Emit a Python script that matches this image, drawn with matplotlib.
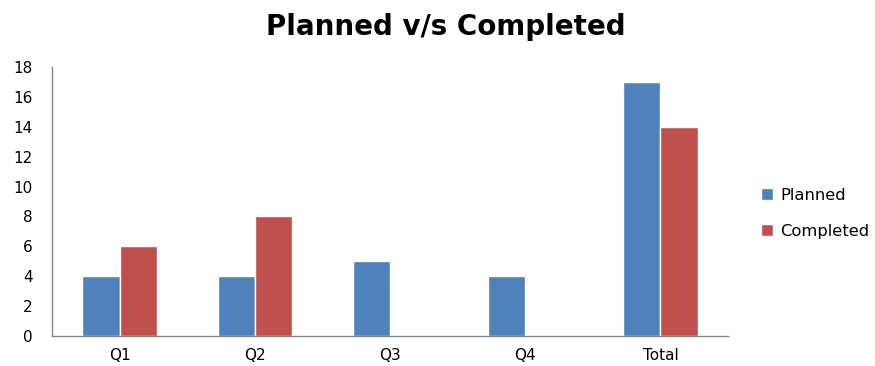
import matplotlib.pyplot as plt
import numpy as np

# chart data
quarters = ["Q1", "Q2", "Q3", "Q4", "Total"]
planned = [4, 4, 5, 4, 17]
completed = [6, 8, 0, 0, 14]

blue = "#4F81BD"
red = "#C0504D"

plt.rcParams['font.family'] = ['DejaVu Sans']

fig = plt.figure(figsize=(8.75, 3.66), dpi=100)
ax = fig.add_axes([0.0594, 0.082, 0.7726, 0.735])

x = np.arange(len(quarters))
w = 0.275
b1 = ax.bar(x - w / 2, planned, w, color=blue, edgecolor="white", linewidth=1, label="Planned")
b2 = ax.bar(x + w / 2, completed, w, color=red, edgecolor="white", linewidth=1, label="Completed")

ax.set_xlim(-0.5, len(quarters) - 0.5)
ax.set_ylim(0, 18)
ax.set_yticks(range(0, 19, 2))
ax.set_xticks(x)
ax.set_xticklabels(quarters)
ax.tick_params(length=0, labelsize=11, colors="black")
ax.tick_params(axis="y", pad=14)
ax.tick_params(axis="x", pad=9)

for s in ["top", "right"]:
    ax.spines[s].set_visible(False)
for s in ["left", "bottom"]:
    ax.spines[s].set_color("#868686")
    ax.spines[s].set_linewidth(1)

fig.suptitle("Planned v/s Completed", fontsize=20, fontweight="bold", x=0.509, y=0.965)

fig.legend(handles=[b1, b2], loc="center left", bbox_to_anchor=(0.853, 0.417),
           frameon=False, fontsize=11.8, handlelength=0.75, handleheight=0.75,
           handletextpad=0.4, labelspacing=1.25)

fig.savefig("out.png", dpi=100)
